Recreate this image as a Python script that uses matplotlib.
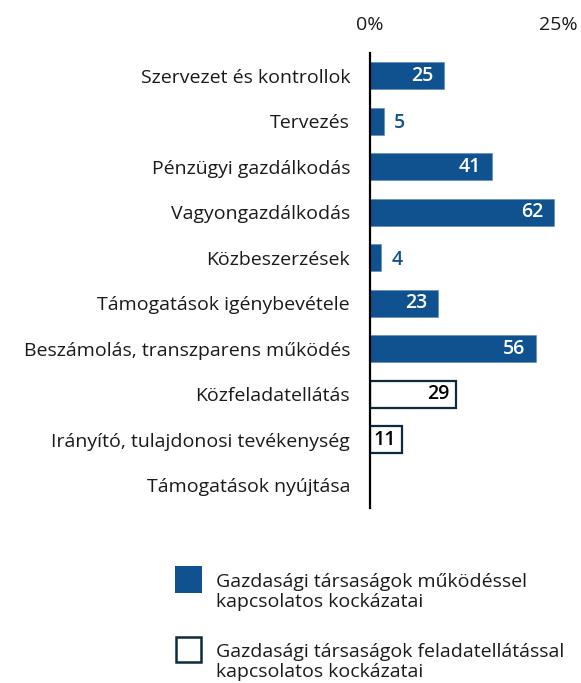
import matplotlib
matplotlib.use("Agg")
import matplotlib.pyplot as plt
from matplotlib.patches import Rectangle

plt.rcParams['font.family'] = ['Open Sans', 'DejaVu Sans']

categories = [
    "Szervezet és kontrollok",
    "Tervezés",
    "Pénzügyi gazdálkodás",
    "Vagyongazdálkodás",
    "Közbeszerzések",
    "Támogatások igénybevétele",
    "Beszámolás, transzparens működés",
    "Közfeladatellátás",
    "Irányító, tulajdonosi tevékenység",
    "Támogatások nyújtása",
]
values = [25, 5, 41, 62, 4, 23, 56, 29, 11, 0]
series = ["mukodes"] * 7 + ["feladat"] * 3
tick_values = [0, 63.25]
tick_labels = ["0%", "25%"]
legend_labels = [
    "Gazdasági társaságok működéssel\nkapcsolatos kockázatai",
    "Gazdasági társaságok feladatellátással\nkapcsolatos kockázatai",
]

BLUE = "#10528f"
NAVY = "#0e2b3c"
TXT = "#1a1a1a"
FS = 14

W, H = 581, 683
fig = plt.figure(figsize=(W / 100, H / 100), dpi=100)
x0, y_top, y_bot = 369.5, 53, 508
xmax = (W - x0) / 2.98
ax = fig.add_axes([x0 / W, 1 - y_bot / H, (W - x0) / W, (y_bot - y_top) / H])

n = len(categories)
ypos = list(range(n))
for i, (v, s) in enumerate(zip(values, series)):
    if v <= 0:
        continue
    if s == "mukodes":
        ax.barh(i, v, height=0.6, color=BLUE, edgecolor="#5a86b5", linewidth=0.4, zorder=2)
    else:
        ax.barh(i, v, height=0.6, color="white", edgecolor=NAVY, linewidth=1.6, zorder=2)
    if v >= 10:
        col = "white" if s == "mukodes" else "black"
        off = -8 if s == "mukodes" else -4.5
        ax.annotate(str(v), (v, i), xytext=(off, 0), textcoords="offset points",
                    ha="right", va="center", color=col, fontsize=FS, fontweight=600, zorder=3)
    else:
        ax.annotate(str(v), (v, i), xytext=(7, -1.5), textcoords="offset points",
                    ha="left", va="center", color=BLUE, fontsize=FS, fontweight=600, zorder=3)

ax.set_xlim(0, xmax)
ax.set_ylim(n - 0.5, -0.5)
ax.set_yticks(ypos)
ax.set_yticklabels(categories, fontsize=FS, color=TXT)
ax.tick_params(axis="y", length=0, pad=14)
ax.xaxis.tick_top()
ax.set_xticks(tick_values)
ax.set_xticklabels(tick_labels, fontsize=FS, color=TXT)
ax.tick_params(axis="x", length=0, pad=14)
for sp in ["top", "right", "bottom"]:
    ax.spines[sp].set_visible(False)
ax.spines["left"].set_linewidth(1.6)
ax.spines["left"].set_color("black")
ax.spines["left"].set_zorder(4)
ax.set_facecolor("none")

# legend
sq = 27
leg_y = [566, 636]
for yy, lab, s in zip(leg_y, legend_labels, ["mukodes", "feladat"]):
    if s == "mukodes":
        r = Rectangle((175 / W, 1 - (yy + sq) / H), sq / W, sq / H, transform=fig.transFigure,
                      facecolor=BLUE, edgecolor=BLUE, linewidth=0)
    else:
        r = Rectangle((176 / W, 1 - (yy + sq - 1) / H), (sq - 2) / W, (sq - 2) / H, transform=fig.transFigure,
                      facecolor="white", edgecolor=NAVY, linewidth=1.8)
    fig.add_artist(r)
    fig.text(216 / W, 1 - (yy + 26) / H, lab, ha="left", va="center", fontsize=FS,
             color=TXT, linespacing=1.2)

fig.savefig("out.png", dpi=100, facecolor="white")
